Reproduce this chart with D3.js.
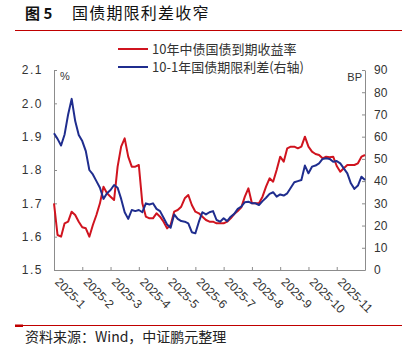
<!DOCTYPE html>
<html>
<head>
<meta charset="utf-8">
<script src="https://cdn.jsdelivr.net/npm/d3@7"></script>
<style>
  body { margin: 0; background: #fff; }
  svg { display: block; }
</style>
</head>
<body>
<svg width="414" height="352"></svg>
<script>
// months on the x axis (one tick per month, 2025-12 tick has no label)
var monthLabels = ["2025-1", "2025-2", "2025-3", "2025-4", "2025-5", "2025-6",
  "2025-7", "2025-8", "2025-9", "2025-10", "2025-11"];
var leftTicks = [1.5, 1.6, 1.7, 1.8, 1.9, 2.0, 2.1];
var rightTicks = [0, 10, 20, 30, 40, 50, 60, 70, 80, 90];
var seriesNames = ["10年中债国债到期收益率", "10-1年国债期限利差(右轴)"];

// one reading every 1/8 month, starting at 2025-01-01
var step = 1 / 8;
// 10y CGB yield, %
var yield10 = [1.70, 1.605, 1.60, 1.64, 1.645, 1.675, 1.665, 1.645, 1.628, 1.625,
  1.60, 1.635, 1.665, 1.70, 1.75, 1.73, 1.72, 1.71, 1.81, 1.87,
  1.895, 1.84, 1.81, 1.81, 1.815, 1.70, 1.66, 1.655, 1.655, 1.67,
  1.66, 1.645, 1.625, 1.635, 1.675, 1.68, 1.69, 1.715, 1.725, 1.695,
  1.675, 1.67, 1.66, 1.65, 1.645, 1.645, 1.64, 1.64, 1.64, 1.645,
  1.655, 1.668, 1.677, 1.688, 1.72, 1.745, 1.70, 1.70, 1.70, 1.72,
  1.75, 1.775, 1.765, 1.80, 1.84, 1.825, 1.865, 1.87, 1.87, 1.865,
  1.87, 1.90, 1.87, 1.855, 1.848, 1.845, 1.835, 1.84, 1.838, 1.84,
  1.812, 1.795, 1.805, 1.815, 1.815, 1.815, 1.82, 1.84, 1.845];
// 10y-1y spread, BP
var spread = [61.5, 59, 56, 61, 70, 77, 67, 60.75, 58, 53.5,
  45, 43, 40, 37, 32, 34.5, 36, 38.25, 37, 32,
  26, 23, 27, 26.5, 27, 26, 30, 29.5, 30, 27.5,
  26.5, 23.5, 20.5, 19, 25, 23, 22, 21.75, 21, 17,
  16.5, 21.75, 26, 25, 26, 26.5, 22.5, 21.75, 23.25, 22,
  24, 25.25, 27.5, 28.5, 30.5, 30.75, 30, 30, 29.25, 31,
  32.5, 34.25, 35, 33, 34, 33.5, 34.5, 37, 39.5, 40,
  40.5, 47, 43.5, 46.5, 47, 48, 50, 50.25, 50, 48.75,
  49, 48, 45.75, 43.5, 39, 36.5, 38, 42, 40.5];

var svg = d3.select("svg");
var margins = { top: 70, bottom: 82, left: 54, right: 49 };
var width = 414, height = 352;
var chartBottom = height - margins.bottom;
var chartRight = width - margins.right;

var red = "#d0141f";
var blue = "#1f2d8e";
var axisColor = "#8c8c8c";
var textColor = "#333";
var font = "'Liberation Sans', Arial, 'Noto Sans CJK SC', sans-serif";
var cjk = "'Noto Sans CJK SC', sans-serif";

var x = d3.scaleLinear().domain([0, 11]).range([margins.left, chartRight]);
var yL = d3.scaleLinear().domain([1.5, 2.1]).range([chartBottom, margins.top]);
var yR = d3.scaleLinear().domain([0, 90]).range([chartBottom, margins.top]);

// title
svg.append("text").attr("x", 25).attr("y", 19).text("图 5")
  .style("font-family", cjk).style("font-size", "15px").style("font-weight", "bold")
  .attr("fill", "#111");
svg.append("text").attr("x", 72).attr("y", 19).text("国债期限利差收窄")
  .style("font-family", cjk).style("font-size", "16px").style("letter-spacing", "1.2px")
  .attr("fill", "#111");
svg.append("line").attr("x1", 15).attr("x2", 402).attr("y1", 30.5).attr("y2", 30.5)
  .attr("stroke", "#c00000").attr("stroke-width", 1);

// legend
var legend = svg.append("g");
seriesNames.forEach(function (name, i) {
  var ly = 49 + i * 18;
  legend.append("line").attr("x1", 118).attr("x2", 148).attr("y1", ly).attr("y2", ly)
    .attr("stroke", i == 0 ? red : blue).attr("stroke-width", 2);
  legend.append("text").attr("x", 152).attr("y", ly + 4.5).text(name)
    .style("font-family", cjk).style("font-size", "13px").attr("fill", textColor);
});

// axes
var xAxis = svg.append("g")
  .attr("transform", `translate(0, ${chartBottom})`)
  .call(d3.axisBottom(x).tickValues(d3.range(0, 12)).tickSizeInner(-3).tickSizeOuter(0)
    .tickFormat(function (d) { return monthLabels[d] || ""; }));

var leftAxis = svg.append("g")
  .attr("transform", `translate(${margins.left}, 0)`)
  .call(d3.axisLeft(yL).tickValues(leftTicks).tickSizeInner(-3).tickSizeOuter(0)
    .tickPadding(11).tickFormat(d3.format(".1f")));

var rightAxis = svg.append("g")
  .attr("transform", `translate(${chartRight}, 0)`)
  .call(d3.axisRight(yR).tickValues(rightTicks).tickSizeInner(-3).tickSizeOuter(0)
    .tickPadding(9));

[xAxis, leftAxis, rightAxis].forEach(function (g) {
  g.select(".domain").attr("stroke", axisColor);
  g.selectAll(".tick line").attr("stroke", axisColor);
  g.selectAll("text").attr("fill", textColor)
    .style("font-family", font).style("font-size", "12px");
});
xAxis.selectAll("text")
  .attr("transform", "rotate(45)")
  .attr("x", 9).attr("y", 5).attr("dy", "0.35em")
  .style("text-anchor", "start");
leftAxis.selectAll("text").style("letter-spacing", "1.5px");

svg.append("text").attr("x", 60).attr("y", 80).text("%")
  .style("font-family", font).style("font-size", "11px").attr("fill", textColor);
svg.append("text").attr("x", chartRight - 3).attr("y", 81).text("BP")
  .style("font-family", font).style("font-size", "11px").attr("fill", textColor)
  .style("text-anchor", "end");

// lines
var lineL = d3.line()
  .x(function (d, i) { return x(i * step); })
  .y(function (d) { return yL(d); });
var lineR = d3.line()
  .x(function (d, i) { return x(i * step); })
  .y(function (d) { return yR(d); });

svg.append("path").datum(yield10).attr("d", lineL)
  .attr("fill", "none").attr("stroke", red).attr("stroke-width", 2)
  .attr("stroke-linejoin", "round");
svg.append("path").datum(spread).attr("d", lineR)
  .attr("fill", "none").attr("stroke", blue).attr("stroke-width", 2)
  .attr("stroke-linejoin", "round");

// source
svg.append("line").attr("x1", 15).attr("x2", 402).attr("y1", 325.5).attr("y2", 325.5)
  .attr("stroke", "#c00000").attr("stroke-width", 1);
svg.append("rect").attr("x", 15).attr("y", 324.5).attr("width", 8).attr("height", 2.5)
  .attr("fill", "#c00000");
svg.append("text").attr("x", 25).attr("y", 342).text("资料来源：Wind，中证鹏元整理")
  .style("font-family", cjk).style("font-size", "14px").attr("fill", "#222");
</script>
</body>
</html>
